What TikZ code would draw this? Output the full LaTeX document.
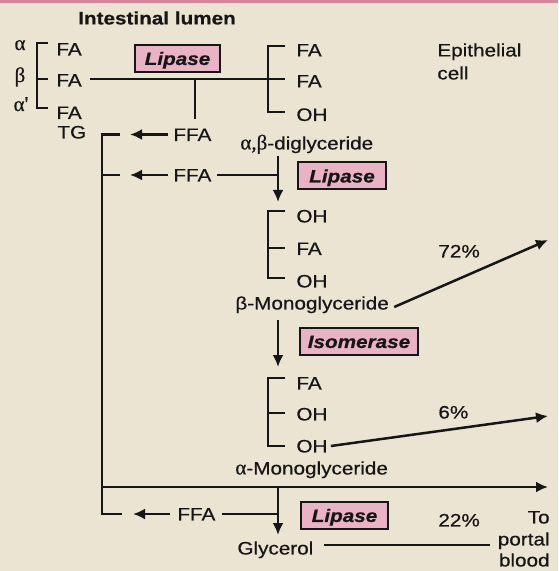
\documentclass[tikz,border=0pt]{standalone}
\usepackage{fontspec}
\setmainfont[FakeStretch=1.15,FakeBold=0.6]{Liberation Sans}
\newfontfamily\grk[FakeBold=0.4]{Liberation Serif}
\usetikzlibrary{arrows.meta}
\definecolor{paperbg}{RGB}{236,228,211}
\definecolor{ink}{RGB}{22,22,22}
\definecolor{pinkbox}{RGB}{233,178,197}
\definecolor{topstrip}{RGB}{212,135,155}
\begin{document}
\begin{tikzpicture}[x=0.5pt,y=-0.5pt,
 lbl/.style={inner sep=0pt,text height=6.45pt,text depth=0pt,anchor=west,text=ink,font=\fontsize{9}{11}\selectfont},
 greek/.style={inner sep=0pt,anchor=base,text=ink,font=\fontsize{10.5}{12}\grk},
 enz/.style={draw=ink,line width=1pt,fill=pinkbox,inner sep=0pt,text=ink,
   font=\fontsize{9}{11}\selectfont\bfseries\itshape,text height=6.45pt,text depth=0pt,
   minimum height=13.5pt},
 ln/.style={draw=ink,line width=1.25pt},
 arr/.style={ln,-{Latex[length=6pt,width=5.5pt]}},
]
\path[fill=paperbg] (0,0) rectangle (558,571);
\path[fill=topstrip] (0,0) rectangle (558,3);
\useasboundingbox (0,0) rectangle (558,571);

% ---------- titles
\node[lbl,anchor=center,font=\fontsize{9}{11}\selectfont\bfseries] (lumen) at (157,18) {Intestinal lumen};
\node[lbl] (epi1) at (437,50) {Epithelial};
\node[lbl] (epi2) at (437,73) {cell};

% ---------- triglyceride
\node[greek] (ga) at (20,50) {α};
\node[greek] (gb) at (20,82) {β};
\node[greek] (gc) at (21,111) {α'};
\node[lbl] (fa1) at (56,49) {FA};
\node[lbl] (fa2) at (56,80) {FA};
\node[lbl] (fa3) at (56,112.5) {FA};
\node[lbl] (tg) at (57,132) {TG};
\draw[ln] (48,43) -- (37,43) -- (37,108) -- (48,108);
\draw[ln] (37,79) -- (48,79);

\node[enz,minimum width=42.5pt] (lip1) at (177.5,58.5) {Lipase};

% ---------- diglyceride
\coordinate (j1) at (285,79);
\coordinate (j2) at (195,79);
\draw[ln] ([xshift=3.75pt]fa2.east |- j1) -- (j1);
\draw[ln] (285,46) -- (268,46) -- (268,112) -- (285,112);
\node[lbl] (d1) at (296,50) {FA};
\node[lbl] (d2) at (296,81) {FA};
\node[lbl] (d3) at (296,114.5) {OH};
\node[lbl] (dig) at (240,143) {{\fontsize{10.5}{12}\grk α,β}-diglyceride};

% ---------- free fatty acids (left)
\node[lbl] (ffa1) at (173,134.5) {FFA};
\node[lbl] (ffa2) at (173,175) {FFA};
\node[lbl] (ffa3) at (177,514) {FFA};
\draw[ln] (j2) -- (j2 |- 0,119);
\coordinate (t1) at (130,134.5);
\coordinate (t2) at (130,175);
\coordinate (t3) at (133,514);
\draw[arr] ([xshift=-2.5pt]ffa1.west) -- (t1);
\draw[arr] ([xshift=-2.5pt]ffa2.west) -- (t2);
\draw[arr] ([xshift=-3.5pt]ffa3.west) -- (t3);

% left collecting line
\coordinate (lt) at (102,134.5);
\coordinate (lb) at (102,514);
\coordinate (lm) at (102,487);
\draw[ln] (120,134.5) -- (lt) -- (lb) -- (122,514);
\draw[ln] (102,175) -- (120,175);

% ---------- main column
\coordinate (v1) at (278,156);
\coordinate (v1e) at (278,202);
\draw[arr] (v1) -- (v1e);
\draw[ln] ([xshift=2.5pt]ffa2.east) -- (ffa2.east -| v1);
\node[enz,minimum width=44pt] (lip2) at (342,176) {Lipase};

\draw[ln] (285,211) -- (268,211) -- (268,278) -- (285,278);
\draw[ln] (268,248) -- (285,248);
\node[lbl] (m1) at (296,216) {OH};
\node[lbl] (m2) at (296,248.5) {FA};
\node[lbl] (m3) at (296,281) {OH};
\node[lbl] (bmg) at (235,303) {β-Monoglyceride};
\node[lbl] (p72) at (438,251) {72\%};
\coordinate (e72) at (548,240);
\draw[arr] ([xshift=2.5pt,yshift=-2pt]bmg.east) -- (e72);

\draw[arr] (278,320) -- (278,367);
\node[enz,minimum width=59pt] (iso) at (359,341.5) {Isomerase};

\draw[ln] (285,378) -- (268,378) -- (268,446) -- (285,446);
\draw[ln] (268,413) -- (285,413);
\node[lbl] (n1) at (296,383) {FA};
\node[lbl] (n2) at (296,414) {OH};
\node[lbl] (n3) at (296,446) {OH};
\node[lbl] (p6) at (438,412) {6\%};
\coordinate (e6) at (548,416);
\draw[arr] ([xshift=1.5pt]n3.east) -- (e6);
\node[lbl] (amg) at (235,468) {{\fontsize{10.5}{12}\grk α}-Monoglyceride};

\coordinate (e0) at (548,487);
\draw[arr] (lm) -- (e0);
\draw[arr] (278,487) -- (278,535);
\draw[ln] ([xshift=3pt]ffa3.east) -- (ffa3.east -| 278,0);
\node[enz,minimum width=43.5pt] (lip3) at (344.5,515.5) {Lipase};
\node[lbl] (p22) at (438,520) {22\%};

\node[lbl] (gly) at (237,548) {Glycerol};
\coordinate (ge) at (490,545);
\draw[ln] ([xshift=5pt,yshift=1.5pt]gly.east) -- (ge);
\node[lbl,anchor=east] (to1) at (550,517) {To};
\node[lbl,anchor=east] (to2) at (550,539) {portal};
\node[lbl,anchor=east] (to3) at (550,560) {blood};
\end{tikzpicture}
\end{document}
